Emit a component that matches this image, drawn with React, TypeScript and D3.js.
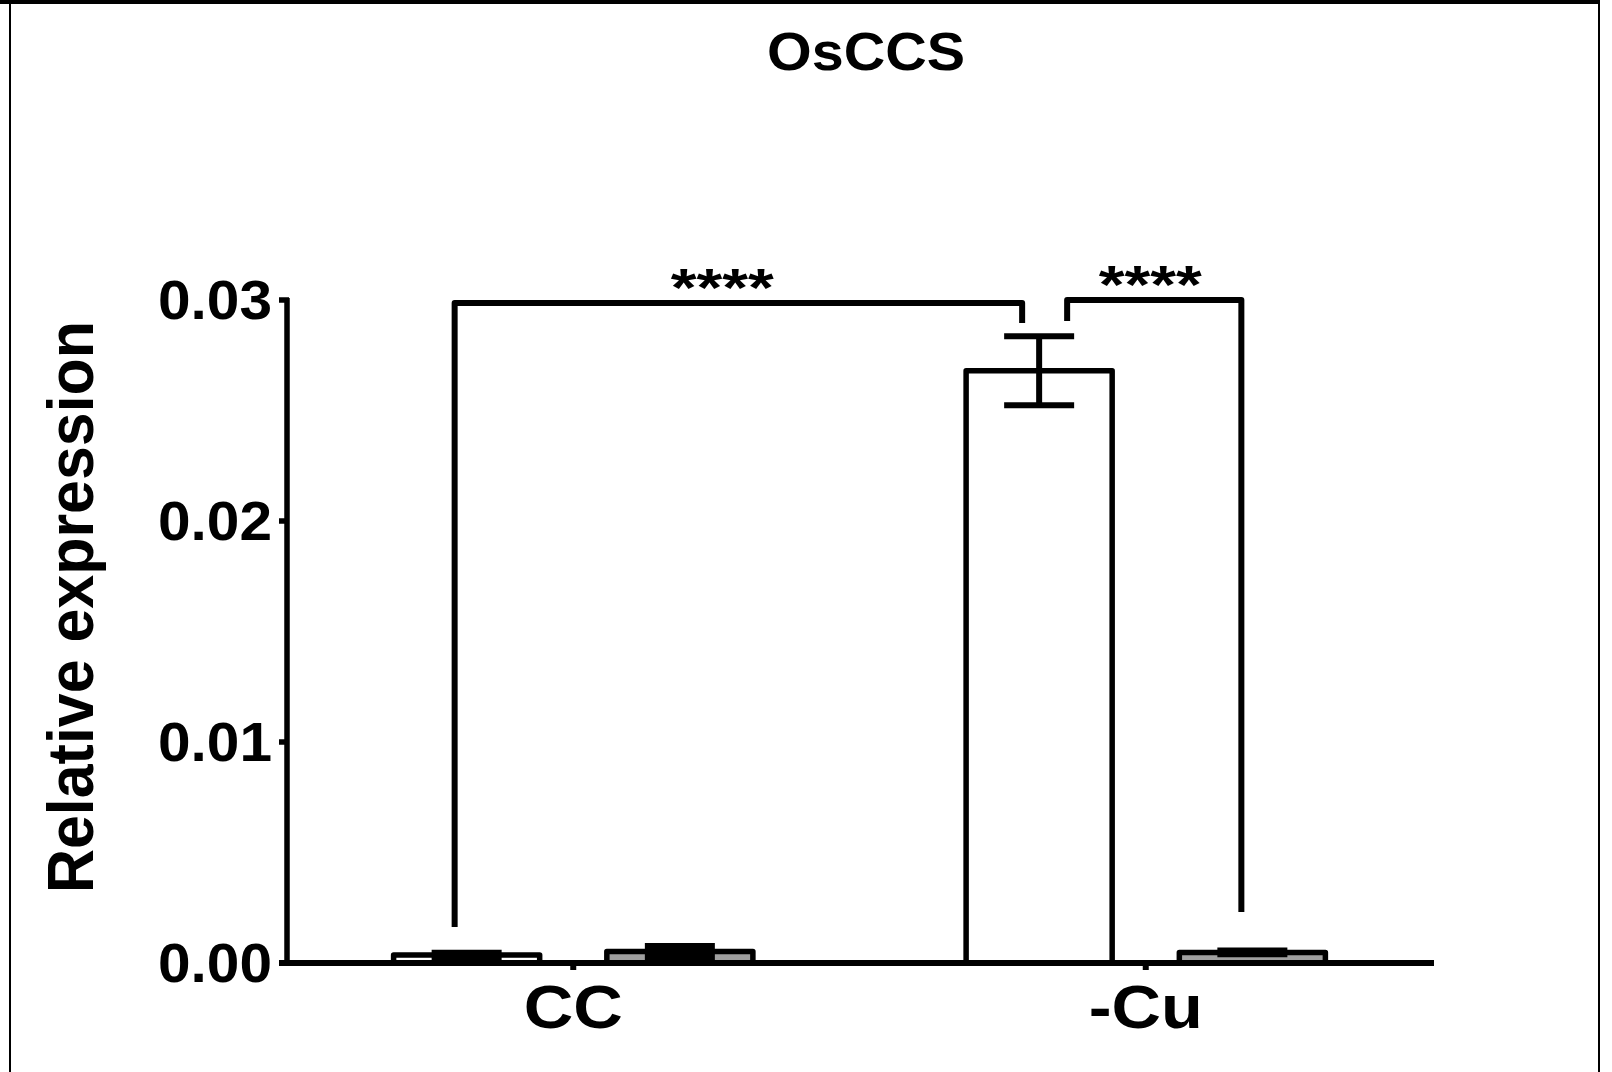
import React from "react";
import * as d3 from "d3";

const categories = ["CC", "-Cu"];
const seriesNames = ["control", "treated"];
const seriesFill = ["#ffffff", "#a0a0a0"];
// mean values [series][category]
const meanValues = [
  [0.00036, 0.0268],
  [0.00052, 0.00048],
];
const semValues = [
  [0.0001, 0.00156],
  [0.00025, 0.00008],
];
const yTicks = [0, 0.01, 0.02, 0.03];
const yTickLabels = ["0.00", "0.01", "0.02", "0.03"];
const titleText = "OsCCS";
const yLabel = "Relative expression";
// significance brackets: [catA, seriesA] -> [catB, seriesB]
const bracketFrom = [[0, 0], [1, 0]];
const bracketTo = [[1, 0], [1, 1]];
const bracketLevel = [0.02986, 0.03];
const bracketLegEndA = [0.00163, 0.02905];
const bracketLegEndB = [0.02896, 0.00231];
const bracketLabels = ["****", "****"];

const W = 1612;
const H = 1072;
const FONT = "'Liberation Sans', Arial, Helvetica, sans-serif";
// layout tweaks (pixels)
const legOffA = [-12, 28];
const legOffB = [-17, -11];
const starOff = [-16, -4];

export default function App() {
  const x0 = d3.scaleBand<string>().domain(categories).range([287, 1432]).paddingInner(0).paddingOuter(0);
  const x1 = d3
    .scaleBand<string>()
    .domain(seriesNames)
    .range([0, x0.bandwidth()])
    .paddingInner(0.315)
    .paddingOuter(0.5);
  const y = d3.scaleLinear().domain([0, 0.03]).range([963, 300]);

  const barCenter = (ci: number, si: number) =>
    (x0(categories[ci]) as number) + (x1(seriesNames[si]) as number) + x1.bandwidth() / 2;

  const capHalf = 35;
  const sw = 5.5;

  return (
    <div style={{ position: "absolute", left: 0, top: 0 }}>
      <svg width={W} height={H} style={{ display: "block", background: "#fff" }}>
        <rect x={0} y={0} width={W} height={H} fill="#fff" />
        {/* frame */}
        <line x1={10} y1={0} x2={10} y2={H} stroke="#000" strokeWidth={2} />
        <line x1={0} y1={2} x2={1600} y2={2} stroke="#000" strokeWidth={4} />
        <line x1={1599} y1={0} x2={1599} y2={H} stroke="#000" strokeWidth={2} />

        {/* title */}
        <text
          x={866}
          y={70}
          textAnchor="middle"
          fontFamily={FONT}
          fontWeight="bold"
          fontSize={53}
          textLength={198}
          lengthAdjust="spacingAndGlyphs"
        >
          {titleText}
        </text>

        {/* bars */}
        {seriesNames.map((s, si) =>
          categories.map((c, ci) => {
            const bx = (x0(c) as number) + (x1(s) as number);
            const v = meanValues[si][ci];
            return (
              <rect
                key={`b-${si}-${ci}`}
                x={bx}
                y={y(v)}
                width={x1.bandwidth()}
                height={y(0) - y(v)}
                fill={seriesFill[si]}
                stroke="#000"
                strokeWidth={sw}
                strokeLinejoin="round"
              />
            );
          })
        )}

        {/* error bars */}
        {seriesNames.map((s, si) =>
          categories.map((c, ci) => {
            const cx = barCenter(ci, si);
            const m = meanValues[si][ci];
            const e = semValues[si][ci];
            const yt = y(m + e);
            const yb = y(Math.max(0, m - e));
            return (
              <g key={`e-${si}-${ci}`} stroke="#000" strokeWidth={6}>
                <line x1={cx} x2={cx} y1={yt} y2={yb} />
                <line x1={cx - capHalf} x2={cx + capHalf} y1={yt} y2={yt} />
                <line x1={cx - capHalf} x2={cx + capHalf} y1={yb} y2={yb} />
              </g>
            );
          })
        )}

        {/* y axis */}
        <line x1={287} x2={287} y1={y(0)} y2={y(0.03) - 2} stroke="#000" strokeWidth={sw} />
        {yTicks.map((t, i) => (
          <g key={`yt-${i}`}>
            <line x1={279} x2={289} y1={y(t)} y2={y(t)} stroke="#000" strokeWidth={sw} />
            <text
              x={272}
              y={y(t) + 19}
              textAnchor="end"
              fontFamily={FONT}
              fontWeight="bold"
              fontSize={56}
              textLength={114}
              lengthAdjust="spacingAndGlyphs"
            >
              {yTickLabels[i]}
            </text>
          </g>
        ))}

        {/* x axis */}
        <line x1={279} x2={1434} y1={y(0)} y2={y(0)} stroke="#000" strokeWidth={6} />
        {categories.map((c, i) => {
          const cx = (x0(c) as number) + x0.bandwidth() / 2;
          return (
            <g key={`xt-${i}`}>
              <line x1={cx} x2={cx} y1={y(0)} y2={y(0) + 7} stroke="#000" strokeWidth={6} />
              <text
                x={cx}
                y={1028}
                textAnchor="middle"
                fontFamily={FONT}
                fontWeight="bold"
                fontSize={61}
                textLength={c === "CC" ? 99 : 114}
                lengthAdjust="spacingAndGlyphs"
              >
                {c}
              </text>
            </g>
          );
        })}

        {/* y label */}
        <text
          transform={`translate(93,607) rotate(-90)`}
          textAnchor="middle"
          fontFamily={FONT}
          fontWeight="bold"
          fontSize={64}
          textLength={572}
          lengthAdjust="spacingAndGlyphs"
        >
          {yLabel}
        </text>

        {/* significance brackets */}
        {bracketFrom.map((f, i) => {
          const xa = barCenter(f[0], f[1]) + legOffA[i];
          const xb = barCenter(bracketTo[i][0], bracketTo[i][1]) + legOffB[i];
          const yl = y(bracketLevel[i]);
          const path = `M${xa},${y(bracketLegEndA[i])} L${xa},${yl} L${xb},${yl} L${xb},${y(bracketLegEndB[i])}`;
          return (
            <g key={`br-${i}`}>
              <path d={path} fill="none" stroke="#000" strokeWidth={6} strokeLinejoin="round" />
              <text
                x={(xa + xb) / 2 + starOff[i]}
                y={yl + 3}
                textAnchor="middle"
                fontFamily={FONT}
                fontWeight="bold"
                fontSize={54}
                textLength={103}
                lengthAdjust="spacingAndGlyphs"
              >
                {bracketLabels[i]}
              </text>
            </g>
          );
        })}
      </svg>
    </div>
  );
}
